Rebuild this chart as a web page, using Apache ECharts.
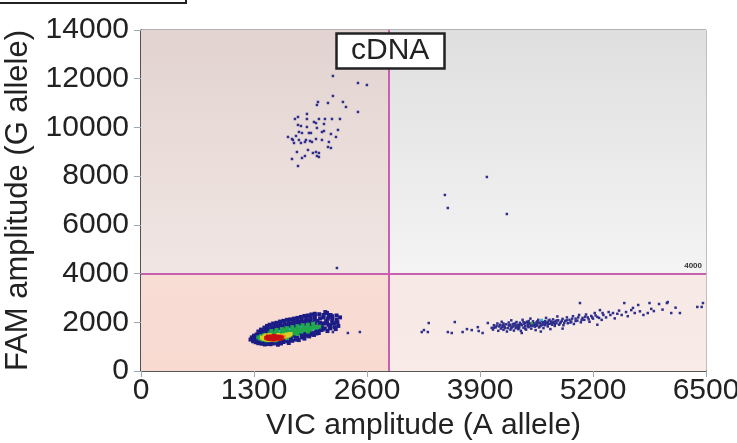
<!DOCTYPE html>
<html><head><meta charset="utf-8">
<script src="https://cdn.jsdelivr.net/npm/echarts@6/dist/echarts.min.js"></script>
<style>html,body{margin:0;padding:0;background:#fff}#c{width:737px;height:443px}</style>
</head><body><div id="c"></div>
<script>
var xTicks = [0, 1300, 2600, 3900, 5200, 6500];
var yTicks = [0, 2000, 4000, 6000, 8000, 10000, 12000, 14000];
var thresholdX = 2850;
var thresholdY = 4000;

// Low-FAM / low-VIC cluster, split by density colour
var clusterA_blue = [[1260,1290],[1275,1380],[1290,1220],[1300,1450],[1310,1330],[1320,1180],[1330,1500],[1345,1260],[1350,1140],[1365,1560],[1380,1200],[1390,1120],[1400,1600],[1410,1160],[1425,1090],[1440,1640],[1450,1110],[1460,1580],[1475,1150],[1490,1100],[1500,1680],[1510,1200],[1525,1130],[1540,1720],[1550,1620],[1560,1160],[1575,1080],[1590,1750],[1600,1210],[1610,1130],[1625,1780],[1640,1190],[1650,1680],[1660,1250],[1675,1820],[1690,1220],[1700,1150],[1715,1850],[1725,1300],[1740,1240],[1750,1880],[1765,1780],[1780,1290],[1790,1920],[1800,1350],[1815,1270],[1830,1960],[1840,1840],[1855,1380],[1870,2000],[1880,1330],[1895,1450],[1910,2040],[1920,1910],[1935,1420],[1950,2080],[1960,1520],[1975,1980],[1990,1480],[2000,2120],[2015,1600],[2030,2060],[2045,1560],[2060,2160],[2070,1680],[2085,1950],[2100,2200],[2115,1750],[2130,2050],[2145,1640],[2160,2230],[2180,1850],[2200,2120],[2220,1960],[2240,1720],[2250,2280],[2270,1850],[1320,1400],[1350,1300],[1380,1480],[1420,1250],[1460,1500],[1480,1230],[1520,1560],[1560,1290],[1600,1580],[1640,1350],[1680,1650],[1700,1400],[1740,1700],[1760,1450],[1800,1760],[1830,1550],[1860,1800],[1880,1600],[1920,1820],[1950,1650],[1980,1880],[2010,1720],[2050,1880],[2080,1800],[2120,1950],[2160,1900],[2200,2000],[2140,2380],[2050,2330],[2180,2300],[2100,2300],[2150,2150],[2200,2250],[2250,2100],[2120,2420],[2000,2250],[1950,2200],[2230,1800],[2260,2000],[1900,2150],[2180,1750],[2290,2200],[1300,1300],[1330,1360],[1360,1420],[1400,1520],[1430,1560],[1450,1200],[1500,1240],[1530,1620],[1570,1650],[1600,1260],[1630,1680],[1660,1300],[1690,1720],[1720,1350],[1760,1750],[1790,1400],[1820,1800],[1850,1450],[1870,1850],[1900,1500],[1940,1880],[1970,1560],[2000,1950],[2030,1650],[2060,1980],[2090,1700],[2140,2000],[2170,1800],[1380,1260],[1330,1240],[1420,1180],[1540,1200],[1620,1230],[1700,1280],[1780,1340],[1860,1420],[1940,1480],[2020,1540],[1350,1620],[1380,1700],[1420,1780],[1450,1850],[1480,1900],[1520,1950],[1560,1980],[1600,2030],[1640,2060],[1680,2100],[1720,2120],[1760,2150],[1800,2180],[1840,2220],[1880,2260],[1920,2280],[1960,2320],[2000,2350],[1450,1750],[1500,1820],[1550,1870],[1600,1900],[1650,1950],[1700,2000],[1750,2030],[1800,2060],[1850,2100],[1900,2050],[1950,2150],[1420,1680],[1480,1720],[1530,1790],[1580,1820],[1630,1860],[1680,1900],[1730,1930],[1780,2000],[1830,2020],[1880,1980],[1940,2020]];
var clusterA_cyan = [[1560,1430],[1700,1560],[1780,1600],[1850,1660],[1620,1520],[1500,1520],[1900,1740],[1980,1760],[1760,1700],[1420,1350],[1700,1700],[1840,1780],[1600,1600]];
var clusterA_green = [[1350,1380],[1370,1330],[1380,1430],[1400,1290],[1420,1480],[1440,1260],[1460,1440],[1480,1540],[1500,1300],[1520,1480],[1540,1260],[1560,1560],[1580,1350],[1600,1500],[1620,1620],[1640,1420],[1660,1540],[1680,1350],[1700,1600],[1720,1480],[1740,1640],[1760,1550],[1780,1680],[1800,1520],[1820,1720],[1840,1620],[1860,1700],[1880,1760],[1900,1680],[1930,1780],[1960,1760],[1990,1820],[1700,1530],[1650,1470],[1600,1400],[1750,1600],[1820,1640],[1880,1700],[1950,1700],[2020,1780],[2050,1820],[1920,1620],[1800,1600],[1720,1560],[1640,1580],[1540,1520],[1460,1360],[1500,1640],[1560,1680],[1620,1720],[1680,1760],[1740,1800],[1800,1840],[1860,1880],[1920,1900],[1980,1940],[1650,1680],[1550,1600]];
var clusterA_yellow = [[1390,1370],[1410,1320],[1420,1420],[1440,1460],[1450,1300],[1600,1440],[1620,1380],[1640,1470],[1660,1420],[1680,1500],[1700,1450],[1720,1520],[1580,1480],[1480,1470],[1560,1300],[1470,1270]];
var clusterA_orange = [[1455,1440],[1590,1430],[1620,1420],[1470,1300],[1520,1280],[1580,1320],[1640,1400]];
var clusterA_red = [[1440,1360],[1460,1330],[1470,1390],[1480,1310],[1490,1360],[1500,1420],[1510,1340],[1520,1390],[1530,1300],[1540,1360],[1550,1420],[1560,1380],[1570,1340],[1580,1400],[1590,1360],[1600,1330],[1610,1390],[1620,1350],[1500,1370],[1530,1440],[1460,1400],[1550,1330]];

// VIC-positive cluster (A allele)
var clusterB = [[3230,1600],[3255,1680],[3300,1600],[3310,1970],[3530,1600],[3575,1560],[3610,2010],[3700,1600],[3750,1720],[3805,1680],[3875,1800],[3885,1640],[3930,1560],[3990,1970],[4035,1770],[4050,1700],[4060,1880],[4080,1790],[4100,1950],[4110,1650],[4120,1830],[4140,1740],[4150,2020],[4160,1880],[4170,1690],[4180,1800],[4200,1920],[4210,1620],[4220,1760],[4230,1990],[4240,1850],[4250,1700],[4260,2080],[4270,1800],[4280,1930],[4290,1660],[4300,1870],[4310,1760],[4320,2010],[4330,1900],[4340,1720],[4350,1820],[4360,1980],[4370,1650],[4380,1880],[4390,2100],[4400,1780],[4410,1930],[4420,1840],[4430,1700],[4440,2020],[4450,1900],[4460,1800],[4470,1960],[4480,2150],[4490,1740],[4500,1870],[4510,2040],[4520,1950],[4530,1820],[4540,1680],[4550,2000],[4560,1900],[4570,2100],[4580,1790],[4590,1960],[4600,1870],[4610,2060],[4620,1940],[4630,1760],[4640,2010],[4650,1880],[4660,2180],[4670,1980],[4680,1830],[4690,2070],[4700,1940],[4710,1720],[4720,2030],[4730,1900],[4740,2120],[4750,1990],[4760,1850],[4770,2060],[4780,1960],[4790,2240],[4800,2080],[4810,1900],[4830,2000],[4850,2140],[4860,1880],[4880,2060],[4900,2200],[4910,1960],[4930,2100],[4950,2030],[4970,2250],[4980,1930],[5000,2150],[5020,2070],[5040,2300],[5050,2790],[5060,2000],[5080,2180],[5100,2100],[5120,2320],[5140,2200],[5160,2020],[5180,2260],[5200,2150],[5220,2380],[5250,2220],[5280,2500],[5300,2100],[5320,2300],[5350,2200],[5380,2420],[5400,2300],[5430,2380],[5450,2160],[5480,2350],[5500,2480],[5530,2300],[5560,2790],[5580,2420],[5600,2250],[5640,2500],[5660,2590],[5680,2380],[5720,2710],[5740,2450],[5780,2300],[5830,2380],[5850,2790],[5870,2550],[5900,2460],[5960,2750],[6000,2520],[6050,2790],[6060,2830],[6100,2380],[6150,2600],[6200,2380],[6400,2630],[6450,2630],[6465,2790],[4380,1560],[4600,1620],[4850,1740],[5250,1900],[4150,1800],[4250,1900],[4350,1880],[4450,1950],[4550,1850],[4650,1950],[4750,2000],[4350,1760],[4450,1830],[4550,1930],[4180,1860],[4280,1830],[4480,1900],[4580,1990],[4680,2000],[4420,1980],[4320,1820],[4520,1870],[4620,2000],[4720,1960],[4060,1780],[4090,1850],[4130,1900],[4170,1950],[4190,1760],[4230,1880],[4260,1760],[4300,1950],[4330,1800],[4370,1920],[4400,2000],[4420,1740],[4460,2050],[4490,1850],[4510,1960],[4540,1900],[4560,2040],[4590,1830],[4620,1890],[4650,2050],[4680,1920],[4700,2100],[4730,1980],[4760,1920],[4790,2080],[4820,1960],[4840,2060],[4870,1980],[4900,2080],[4940,1990],[4960,2150],[5000,2050],[5030,2200],[5070,2100],[5110,2230],[5150,2120],[5190,2200],[5230,2280],[5270,2180],[5310,2380]];
var clusterB_green = [[4496,1971]];
var clusterB_cyan = [[4611,2094]];

// FAM-positive cluster (G allele)
var clusterC = [[2208,12113],[2496,11825],[2599,11743],[2208,11292],[2036,11045],[2151,11004],[2323,11045],[2358,10840],[2024,10922],[2496,10635],[1909,10553],[1771,10347],[1806,10429],[1909,10347],[1990,10224],[2013,10180],[2047,10347],[2116,10347],[2197,10347],[2289,10347],[2105,10142],[1806,10101],[1840,10060],[1909,10019],[2105,9854],[2024,9978],[2266,9896],[1817,9813],[1852,9772],[1932,9772],[1955,9772],[2082,9813],[2185,9731],[2243,9608],[1691,9608],[1737,9526],[1748,9485],[1817,9485],[1783,9649],[1898,9485],[1944,9444],[1886,9403],[2013,9526],[2082,9485],[2162,9403],[1760,9362],[1840,9362],[1967,9403],[2151,9197],[2185,9156],[1921,9074],[1794,8992],[1978,8951],[2013,8992],[2047,8951],[2024,8828],[2047,8787],[1886,8828],[1852,8746],[1737,8705],[1806,8417]];

// Stray droplets
var strays = [[3496,7227],[3530,6693],[3979,7966],[4209,6446],[2254,4229],[2208,1600],[2380,1560],[2518,1600]];

var chart = echarts.init(document.getElementById('c'));
var FONT = 'Liberation Sans, Arial, sans-serif';
var NAVY = '#2e2e8c';

function grad(top, bottom) {
  return new echarts.graphic.LinearGradient(0, 0, 0, 1, [{offset:0,color:top},{offset:1,color:bottom}]);
}
function pts(data, color, size, z) {
  return {type:'scatter', data:data, symbol:'rect', symbolSize:size, z:z||3, silent:true,
    itemStyle:{color:color, opacity:1}, animation:false};
}
function plain(v) { return String(v); }

chart.setOption({
  animation:false,
  textStyle:{fontFamily:FONT},
  title:{text:'cDNA', left:336, top:33, padding:[3,15],
    backgroundColor:'#fff', borderColor:'#222', borderWidth:2.5,
    textStyle:{fontSize:30, fontWeight:'normal', color:'#222', fontFamily:FONT}},
  graphic:[{type:'rect', left:-10, top:-40, shape:{width:195, height:42},
    style:{fill:'#fff', stroke:'#222', lineWidth:2}, z:10}],
  grid:{left:141, right:31, top:30, bottom:72, containLabel:false, outerBoundsMode:'none',
    show:true, borderColor:'#666', borderWidth:1, backgroundColor:'transparent'},
  xAxis:{type:'value', min:0, max:6500, interval:1300,
    name:'VIC amplitude (A allele)', nameLocation:'middle', nameGap:38,
    nameTextStyle:{fontSize:30, color:'#222', fontFamily:FONT},
    axisLine:{show:true, lineStyle:{color:'#333', width:1.5}},
    axisTick:{show:true, length:6, lineStyle:{color:'#9aa8b4'}},
    axisLabel:{fontSize:30, color:'#222', margin:5, fontFamily:FONT, formatter:plain},
    splitLine:{show:true, lineStyle:{color:'#c8bcb9', width:1}}},
  yAxis:{type:'value', min:0, max:14000, interval:2000,
    name:'FAM amplitude (G allele)', nameLocation:'middle', nameGap:107,
    nameTextStyle:{fontSize:31, color:'#222', fontFamily:FONT},
    axisLine:{show:true, lineStyle:{color:'#333', width:1.5}},
    axisTick:{show:true, length:7, lineStyle:{color:'#9aa8b4'}},
    axisLabel:{fontSize:30, color:'#222', margin:12, fontFamily:FONT, formatter:plain},
    splitLine:{show:true, lineStyle:{color:'#c8bcb9', width:1}}},
  series:[
    {type:'scatter', data:[], z:-1, silent:true,
      markArea:{silent:true, label:{show:false}, data:[
        [{xAxis:0, yAxis:thresholdY, itemStyle:{color:grad('#e2d3d0','#f1e6e3')}}, {xAxis:thresholdX, yAxis:14000}],
        [{xAxis:thresholdX, yAxis:thresholdY, itemStyle:{color:grad('#dfdfdf','#f4f4f5')}}, {xAxis:6500, yAxis:14000}],
        [{xAxis:0, yAxis:0, itemStyle:{color:grad('#f8ddd5','#f8dad1')}}, {xAxis:thresholdX, yAxis:thresholdY}],
        [{xAxis:thresholdX, yAxis:0, itemStyle:{color:grad('#f6e9e6','#f9ebe7')}}, {xAxis:6500, yAxis:thresholdY}]
      ]}},
    pts(clusterA_blue, '#1c1c86', 4),
    pts(clusterA_cyan, '#20b8d8', 4),
    pts(clusterA_green, '#22a84a', 4),
    pts(clusterA_yellow, '#d8d020', 4),
    pts(clusterA_orange, '#e88020', 4),
    pts(clusterA_red, '#c81010', 4),
    pts(clusterB, NAVY, 2.5),
    pts(clusterB_green, '#22a84a', 2.5),
    pts(clusterB_cyan, '#20b8d8', 2.5),
    pts(clusterC, NAVY, 2.5),
    pts(strays, NAVY, 2.5),
    {type:'scatter', data:[], z:5, silent:true,
      markLine:{silent:true, symbol:['none','none'], animation:false,
        lineStyle:{color:'#c860b0', width:2, type:'solid'},
        data:[
          {xAxis:thresholdX, label:{show:false}},
          {yAxis:thresholdY, label:{show:true, position:'insideEndTop', formatter:'4000',
            fontSize:8, fontWeight:'bold', color:'#333', distance:[4,4]}}
        ]}}
  ]
});
</script></body></html>
